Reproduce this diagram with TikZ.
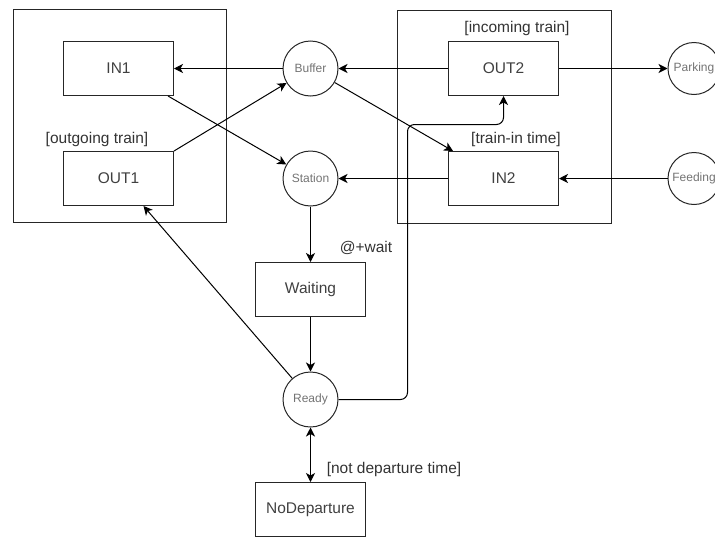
\documentclass[tikz,border=0pt]{standalone}
\usepackage{fontspec}
\setmainfont{Liberation Sans}
\usetikzlibrary{positioning,calc,arrows.meta}

\tikzset{
  >={Stealth[length=9pt,width=9pt,inset=2.5pt]},
  trans/.style={draw=black!85, line width=1pt, minimum width=110pt, minimum height=54pt,
    inner sep=0pt, text=black!75, font=\fontsize{15.5}{18}\selectfont},
  place/.style={circle, draw=black!85, line width=1pt, minimum size=55pt, inner sep=0pt,
    text=black!55, font=\fontsize{12}{14}\selectfont},
  guard/.style={text=black!80, inner sep=0pt, font=\fontsize{15.5}{18}\selectfont},
  arc/.style={->, line width=1pt, draw=black},
  grp/.style={draw=black!85, line width=1pt}
}

\begin{document}
\begin{tikzpicture}[x=1pt,y=-1pt]
    \useasboundingbox (0,0) rectangle (715,536);
    \clip (0,0) rectangle (715,536);

    % Stations (groups)
    \draw[grp] (13.5,9.5) rectangle (226.5,222.5);
    \draw[grp] (397.5,10.5) rectangle (611.5,223.5);

    % Transitions
    \node[trans] (IN1) at (118.5,68.5) {IN1};
    \node[trans] (OUT1) at (118.5,178.5) {OUT1};
    \node[trans] (OUT2) at (503.5,68.5) {OUT2};
    \node[trans] (IN2) at (503.5,178.5) {IN2};
    \node[trans] (Wait) at (310.5,289.5) {Waiting};
    \node[trans] (NoDep) at (310.5,509.5) {NoDeparture};

    % Places
    \node[place] (Buf) at (310.5,68.5) {Buffer};
    \node[place] (Stat) at (310.5,178.5) {Station};
    \node[place] (Ready) at (310.5,399.5) {Ready};
    \node[place, minimum size=52pt] (Park) at (694,68.5) {Parking};
    \node[place, minimum size=52pt] (Feed) at (694,178.5) {Feeding};

    % Guards
    \node[guard] (gOut1) at (97,139) {[outgoing train]};
    \node[guard] (gOut2) at (517,28) {[incoming train]};
    \node[guard] (gIn2) at (516,139) {[train-in time]};
    \node[guard] (gWait) at (366,248) {@+wait};
    \node[guard] (gNoDep) at (394,469) {[not departure time]};

    % Arcs
    \draw[arc] (Buf.west) -- (IN1.east);
    \draw[arc] (OUT2.west) -- (Buf.east);
    \draw[arc] (OUT1.north east) -- (Buf);
    \draw[arc] ([xshift=-6pt]IN1.south east) -- (Stat);
    \draw[arc] (Buf) -- ([xshift=5pt]IN2.north west);
    \draw[arc] (IN2.west) -- (Stat.east);
    \draw[arc] (Feed.west) -- (IN2.east);
    \draw[arc] (OUT2.east) -- (Park.west);
    \draw[arc] (Stat.south) -- (Wait.north);
    \draw[arc] (Wait.south) -- (Ready.north);
    \draw[arc] (Ready) -- ([xshift=25pt]OUT1.south);
    \draw[arc, rounded corners=7pt] (Ready.east) -| (407.5,124.5) -| (OUT2.south);
    \draw[arc, <->] (Ready.south) -- (NoDep.north);

\end{tikzpicture}
\end{document}
